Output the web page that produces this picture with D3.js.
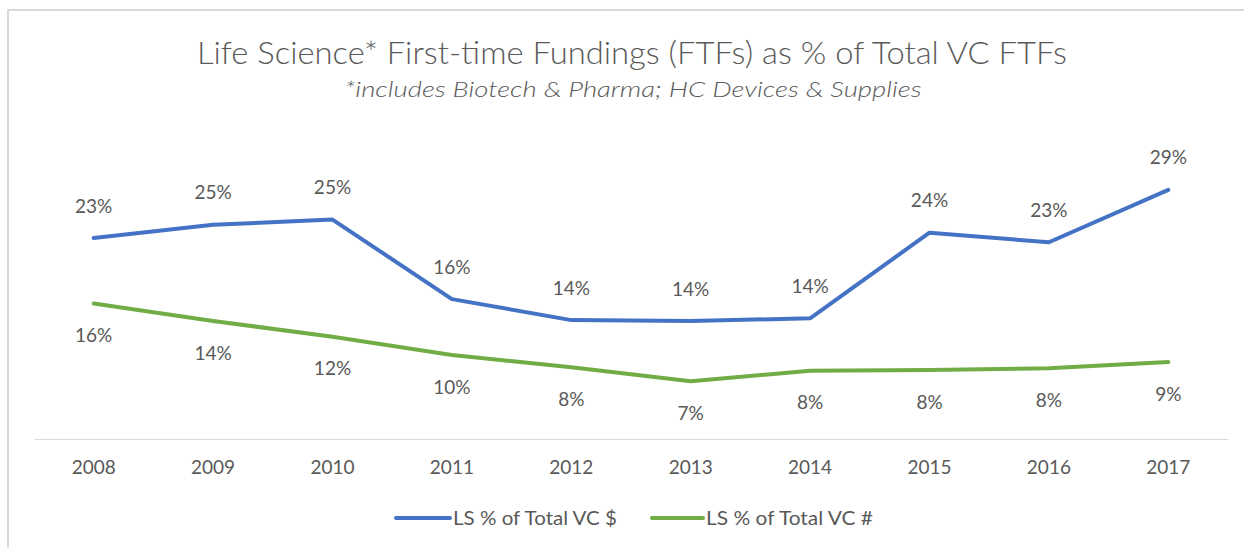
<!DOCTYPE html>
<html>
<head>
<meta charset="utf-8">
<script src="https://cdn.jsdelivr.net/npm/d3@7"></script>
<style>
  html, body { margin: 0; padding: 0; background: #fff; }
  svg { display: block; }
</style>
</head>
<body>
<svg id="chart" width="1244" height="548"></svg>
<script>
const years = ["2008","2009","2010","2011","2012","2013","2014","2015","2016","2017"];
const lsDollarPct = [23.0, 24.5, 25.1, 16.0, 13.6, 13.5, 13.8, 23.6, 22.5, 28.5];
const lsCountPct  = [15.5, 13.5, 11.7, 9.6, 8.2, 6.6, 7.8, 7.9, 8.1, 8.8];
const seriesNames = ["LS % of Total VC $", "LS % of Total VC #"];
const seriesColors = ["#4472C4", "#70AD47"];
const titleText = "Life Science* First-time Fundings (FTFs) as % of Total VC FTFs";
const subtitleText = "*includes Biotech & Pharma; HC Devices & Supplies";

const svg = d3.select("#chart");
const textColor = "#595959";
const fontFam = "Lato, 'Open Sans', 'Liberation Sans', sans-serif";

// chart border
svg.append("rect").attr("x", 8).attr("y", 10).attr("width", 1300).attr("height", 600)
  .attr("fill", "none").attr("stroke", "#d9d9d9").attr("stroke-width", 2);

function fitText(sel, width) {
  sel.attr("textLength", width).attr("lengthAdjust", "spacingAndGlyphs");
}
const title = svg.append("text").attr("x", 632).attr("y", 64).attr("text-anchor", "middle")
  .style("font-family", fontFam).style("font-weight", 300).style("font-size", "32px")
  .attr("fill", textColor).text(titleText);
fitText(title, 870);
const sub = svg.append("text").attr("x", 633).attr("y", 97).attr("text-anchor", "middle")
  .style("font-family", fontFam).style("font-style", "italic").style("font-weight", 300)
  .style("font-size", "21px")
  .attr("fill", textColor).text(subtitleText);
fitText(sub, 577);

// scales
const x = d3.scaleBand().domain(years).range([34, 1228]).padding(0);
const cx = d => x(d) + x.bandwidth() / 2;
const y = d3.scaleLinear().domain([0, 35]).range([439, 133]);

// axis
const axis = svg.append("g").attr("transform", "translate(0,439)")
  .call(d3.axisBottom(x).tickSize(0).tickPadding(21.5));
axis.select(".domain").attr("stroke", "#d9d9d9").attr("stroke-width", 1);
axis.selectAll("text").style("font-family", fontFam).style("font-size", "19px").attr("fill", textColor);

// lines
const allSeries = [lsDollarPct, lsCountPct];
const line = d3.line().x((d, i) => cx(years[i])).y(d => y(d));
allSeries.forEach((vals, si) => {
  svg.append("path").datum(vals).attr("d", line).attr("fill", "none")
    .attr("stroke", seriesColors[si]).attr("stroke-width", 4)
    .attr("stroke-linejoin", "round").attr("stroke-linecap", "round");
  svg.append("g").selectAll("text").data(vals).join("text")
    .attr("x", (d, i) => cx(years[i]))
    .attr("y", d => y(d) + (si === 0 ? -32 : 32))
    .attr("dy", "0.35em")
    .attr("text-anchor", "middle")
    .style("font-family", fontFam).style("font-size", "19px")
    .attr("fill", textColor)
    .text(d => Math.round(d) + "%");
});

// legend
const legendItems = [
  { x0: 396, x1: 450, tx: 453, tw: 164 },
  { x0: 652, x1: 703, tx: 706, tw: 167 }
];
legendItems.forEach((it, i) => {
  svg.append("line").attr("x1", it.x0).attr("x2", it.x1).attr("y1", 518).attr("y2", 518)
    .attr("stroke", seriesColors[i]).attr("stroke-width", 4).attr("stroke-linecap", "round");
  const t = svg.append("text").attr("x", it.tx).attr("y", 518).attr("dy", "0.35em")
    .style("font-family", fontFam).style("font-size", "19px").attr("fill", textColor)
    .text(seriesNames[i]);
  fitText(t, it.tw);
});
</script>
</body>
</html>
